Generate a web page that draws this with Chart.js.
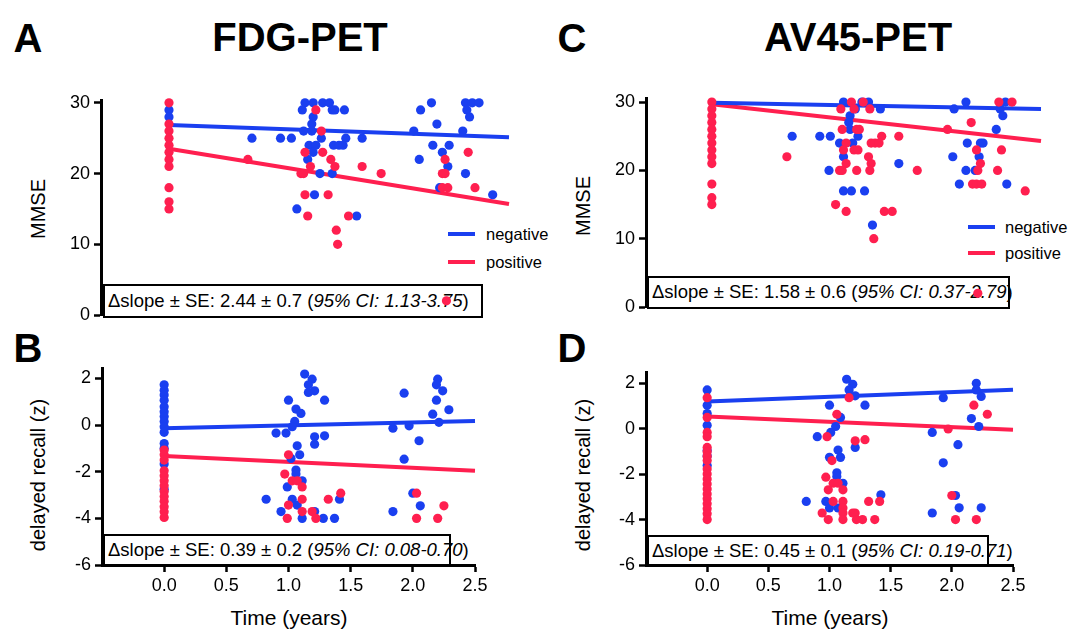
<!DOCTYPE html>
<html>
<head>
<meta charset="utf-8">
<script src="https://cdn.jsdelivr.net/npm/chart.js@4.4.1/dist/chart.umd.min.js"></script>
<style>
  body { margin: 0; width: 1071px; height: 630px; background: #fff; position: relative; overflow: hidden;
         font-family: "Liberation Sans", Arial, sans-serif; color: #000; }
  canvas { position: absolute; left: 0; top: 0; z-index: 2; }
  .t { position: absolute; white-space: nowrap; line-height: 1; transform: translate(-50%, -50%); }
  .big { font-weight: bold; font-size: 40px; }
  .ytitle { font-size: 20px; transform: translate(-50%, -50%) rotate(-90deg); }
  .xtitle { font-size: 21px; }
  .box { position: absolute; z-index: 1; border: 2.5px solid #000; background: #fff; box-sizing: border-box;
         font-size: 18.5px; line-height: 1; padding-left: 3px; display: flex; align-items: center; white-space: nowrap; }
  .leg { position: absolute; height: 4px; width: 27px; }
  .legt { position: absolute; font-size: 16.5px; line-height: 1; transform: translateY(-50%); }
</style>
</head>
<body>
<div class="t big" style="left:28px;top:38px">A</div>
<div class="t big" style="left:300px;top:37px">FDG-PET</div>
<div class="t big" style="left:572px;top:38px">C</div>
<div class="t big" style="left:858px;top:37px">AV45-PET</div>
<div class="t big" style="left:28px;top:348px">B</div>
<div class="t big" style="left:572px;top:348px">D</div>

<div class="t ytitle" style="left:38px;top:209px">MMSE</div>
<div class="t ytitle" style="left:583px;top:206px">MMSE</div>
<div class="t ytitle" style="left:38px;top:475px">delayed recall (z)</div>
<div class="t ytitle" style="left:583px;top:475px">delayed recall (z)</div>
<div class="t xtitle" style="left:289px;top:617px">Time (years)</div>
<div class="t xtitle" style="left:830px;top:617px">Time (years)</div>

<div class="leg" style="left:448px;top:232px;background:#1a3ff0"></div>
<div class="legt" style="left:486px;top:234px">negative</div>
<div class="leg" style="left:448px;top:260px;background:#ff1f4f"></div>
<div class="legt" style="left:486px;top:262px">positive</div>
<div class="leg" style="left:968px;top:225px;background:#1a3ff0"></div>
<div class="legt" style="left:1005px;top:227px">negative</div>
<div class="leg" style="left:968px;top:251px;background:#ff1f4f"></div>
<div class="legt" style="left:1005px;top:253px">positive</div>

<div class="box" style="left:103px;top:284px;width:380px;height:34px">&Delta;slope &plusmn; SE: 2.44 &plusmn; 0.7 (<i>95% CI: 1.13-3.75</i>)</div>
<div class="box" style="left:103px;top:534px;width:348px;height:33px">&Delta;slope &plusmn; SE: 0.39 &plusmn; 0.2 (<i>95% CI: 0.08-0.70</i>)</div>
<div class="box" style="left:647px;top:276px;width:363px;height:33px">&Delta;slope &plusmn; SE: 1.58 &plusmn; 0.6 (<i>95% CI: 0.37-2.79</i>)</div>
<div class="box" style="left:647px;top:535px;width:342px;height:32px">&Delta;slope &plusmn; SE: 0.45 &plusmn; 0.1 (<i>95% CI: 0.19-0.71</i>)</div>

<canvas id="cA" width="1071" height="630"></canvas>
<canvas id="cB" width="1071" height="630"></canvas>
<canvas id="cC" width="1071" height="630"></canvas>
<canvas id="cD" width="1071" height="630"></canvas>

<script>
const BLUE = '#1a3ff0';
const RED = '#ff1f4f';

const xTicks = [0, 0.5, 1, 1.5, 2, 2.5];
const mmseTicks = [0, 10, 20, 30];
const recallTicks = [-6, -4, -2, 0, 2];

// fitted lines: value at time 0 and at time 2.5
const lineEnds = [0, 2.5];
const fdgMmseNegLine = [26.85, 25.15];
const fdgMmsePosLine = [23.5, 15.7];
const fdgRecallNegLine = [-0.13, 0.18];
const fdgRecallPosLine = [-1.32, -1.96];
const avMmseNegLine = [29.9, 29.0];
const avMmsePosLine = [29.7, 24.3];
const avRecallNegLine = [1.2, 1.72];
const avRecallPosLine = [0.54, -0.04];

// A: FDG-PET, MMSE  [time, score]
const fdgMmseNeg = [[0,29],[0,28],
  [1.0,30],[1.06,30],[1.13,30],[1.18,30],[0.98,29],[1.2,29],[1.22,29],[1.29,29],
  [1.06,28],[1.05,27],[0.99,26],[1.05,26],[0.61,25],[0.82,25],[0.9,25],[1.12,25],[1.3,25],[1.42,25],
  [1.03,24],[1.08,24],[1.21,24],[1.25,24],[1.28,24],[1.06,23],[1.02,22],[1.11,20],[1.2,20],
  [1.07,17],[0.94,15],[1.38,14],
  [1.93,30],[1.85,29],[2.18,30],[2.23,30],[2.28,30],[2.19,29],[2.21,28],[1.97,27],[1.8,26],[2.16,26],
  [1.94,24],[2.06,24],[2.01,23],[1.84,22],[2.05,21],[2.18,20],[1.99,18],[2.38,17]];
const fdgMmsePos = [[0,30],[0,27],[0,26],[0,25],[0,24],[0,23],[0,22],[0,21],[0,18],[0,16],[0,15],
  [1.08,29],[1.12,26],[1.0,23],[1.13,23],[0.58,22],[1.19,22],[1.04,21],[1.22,21],[1.42,21],
  [1.56,20],[0.97,20],[0.99,20],[1.0,17],[1.17,17],[1.02,14],[1.32,14],[1.23,12],[1.24,10],
  [2.2,23],[2.03,22],[2.01,20],[2.03,20],[2.01,18],[2.05,18],[2.25,18],[2.04,2]];

// B: FDG-PET, delayed recall
const fdgRecallNeg = [[0,1.73],[0,1.5],[0,1.29],[0,1.07],[0,0.79],[0,0.57],[0,0.37],[0,0.16],[0,-0.07],
  [0,-0.31],[0,-0.79],[0,-0.99],[0,-1.67],[0,-2.75],
  [1.13,2.19],[1.19,1.97],[1.16,1.73],[1.21,1.47],[1.16,1.4],[1.0,1.07],[1.29,1.07],[1.06,0.69],[1.1,0.5],
  [1.05,0.16],[1.03,-0.07],[0.9,-0.34],[0.98,-0.34],[1.21,-0.5],[1.29,-0.46],[1.21,-0.82],[1.07,-0.89],
  [1.09,-1.27],[1.02,-1.43],[1.06,-1.93],[1.06,-2.1],[1.11,-2.39],[0.99,-2.65],[0.82,-3.18],[1.03,-3.18],
  [1.41,-3.18],[1.07,-3.43],[0.94,-3.71],[1.21,-3.71],[1.11,-4],[1.28,-4],[1.37,-4],
  [2.2,1.97],[2.19,1.73],[2.24,1.47],[1.93,1.37],[2.19,1.07],[2.29,0.66],[2.16,0.47],[2.21,0.12],
  [1.84,-0.13],[1.97,-0.03],[2.05,-0.67],[1.93,-1.46],[2.0,-2.92],[2.06,-3.46],[1.84,-3.71]];
const fdgRecallPos = [[0,-1.07],[0,-1.27],[0,-1.5],[0,-1.96],[0,-2.17],[0,-2.39],[0,-2.6],[0,-2.85],
  [0,-3.06],[0,-3.27],[0,-3.5],[0,-3.72],[0,-3.96],
  [1.0,-1.27],[0.97,-2.1],[1.03,-2.39],[1.07,-2.39],[1.11,-2.65],[1.42,-2.92],[1.11,-3.18],[1.32,-3.18],
  [1.0,-3.43],[1.19,-3.71],[1.11,-3.71],[0.99,-4],[1.22,-4],
  [2.03,-2.92],[2.25,-3.46],[2.03,-4],[2.2,-4]];

// C: AV45-PET, MMSE
const avMmseNeg = [[1.0,30],[1.14,30],[1.19,30],[1.09,29],[1.28,29],[1.05,28],[1.04,27],[1.05,26],
  [0.61,25],[0.82,25],[0.9,25],[1.11,25],[0.97,24],[1.07,24],[1.0,22],[1.42,21],[0.89,20],
  [1.0,17],[1.06,17],[1.16,17],[1.22,12],
  [1.93,30],[2.23,30],[1.84,29],[2.19,29],[2.21,28],[2.16,26],[1.94,24],[2.04,24],[2.06,24],
  [1.83,22],[2.03,22],[1.93,20],[2.0,20],[1.88,18],[2.24,18]];
const avMmsePos = [[0,30],[0,29],[0,28],[0,27],[0,26],[0,25],[0,24],[0,23],[0,22],[0,21],[0,18],[0,16],[0,15],
  [1.06,30],[1.15,30],[0.98,29],[1.08,29],[1.2,29],[0.99,26],[1.1,26],[1.12,26],[1.29,25],[1.42,25],
  [1.02,24],[1.21,24],[1.24,24],[1.27,24],[1.0,23],[1.08,23],[1.11,23],[0.57,22],[1.19,22],[1.02,21],
  [1.21,21],[0.97,20],[0.99,20],[1.1,20],[1.2,20],[1.56,20],[0.94,15],[1.02,14],[1.31,14],[1.37,14],[1.23,10],
  [2.18,30],[2.28,30],[1.97,27],[1.79,26],[2.01,23],[2.2,23],[2.04,21],[2.02,20],[2.17,20],
  [1.98,18],[2.01,18],[2.05,18],[2.38,17],[2.02,2]];

// D: AV45-PET, delayed recall
const avRecallNeg = [[0,1.71],[0,1.04],[0,0.67],[0,0.16],[0,-0.96],[0,-1.2],[0,-1.62],
  [1.14,2.18],[1.19,1.96],[1.16,1.71],[1.21,1.45],[1.0,1.04],[1.29,1.04],[1.09,0.5],[1.05,0.1],
  [1.01,-0.16],[0.9,-0.35],[1.21,-0.82],[1.07,-0.94],[1.0,-1.26],[1.09,-1.26],[1.06,-1.94],[1.06,-2.1],
  [1.11,-2.4],[1.42,-2.91],[0.81,-3.2],[0.97,-3.2],[1.0,-3.49],[1.07,-3.49],
  [2.2,2.0],[2.2,1.71],[1.93,1.37],[2.24,1.42],[2.16,0.45],[2.22,0.1],[1.84,-0.16],[2.05,-0.7],
  [1.93,-1.5],[2.03,-2.94],[2.06,-3.48],[2.24,-3.48],[1.84,-3.71]];
const avRecallPos = [[0,1.37],[0,0.5],[0,-0.16],[0,-0.35],[0,-0.82],[0,-1.01],[0,-1.21],[0,-1.4],
  [0,-1.77],[0,-1.99],[0,-2.21],[0,-2.43],[0,-2.65],[0,-2.87],[0,-3.08],[0,-3.3],[0,-3.52],[0,-3.74],[0,-4.0],
  [1.16,1.37],[1.06,0.64],[0.98,-0.35],[1.21,-0.53],[1.29,-0.48],[1.02,-1.4],[0.97,-2.13],[1.03,-2.4],
  [1.07,-2.4],[0.99,-2.69],[1.11,-2.69],[1.03,-3.2],[1.11,-3.2],[1.32,-3.2],[1.41,-3.2],[1.11,-3.49],
  [0.94,-3.71],[1.11,-3.71],[1.19,-3.71],[1.21,-3.71],[0.99,-4],[1.11,-4],[1.22,-4],[1.27,-4],[1.37,-4],
  [2.18,1.04],[2.29,0.64],[1.97,-0.01],[2.0,-2.94],[2.03,-4],[2.2,-4]];

const pts = arr => arr.map(p => ({ x: p[0], y: p[1] }));
const line = vals => lineEnds.map((x, i) => ({ x: x, y: vals[i] }));

function axisStyle(extra) {
  return Object.assign({
    type: 'linear',
    grid: { drawOnChartArea: false, drawTicks: true, tickLength: 7, tickWidth: 2.5, color: '#000' },
    border: { display: true, width: 3, color: '#000' },
  }, extra);
}

function panel(id, p) {
  new Chart(document.getElementById(id), {
    type: 'scatter',
    data: {
      datasets: [
        { data: pts(p.pos), backgroundColor: RED, borderWidth: 0, pointRadius: 4.6, clip: false },
        { data: pts(p.neg), backgroundColor: BLUE, borderWidth: 0, pointRadius: 4.6, clip: false },
        { data: line(p.negLine), showLine: true, borderColor: BLUE, borderWidth: 4, pointRadius: 0, clip: false },
        { data: line(p.posLine), showLine: true, borderColor: RED, borderWidth: 4, pointRadius: 0, clip: false },
      ]
    },
    options: {
      responsive: false,
      animation: false,
      devicePixelRatio: 1,
      layout: { padding: { left: 0, top: p.top, right: 1071 - p.right, bottom: p.bottomPad } },
      plugins: { legend: { display: false }, tooltip: { enabled: false } },
      scales: {
        x: axisStyle({
          min: -0.5, max: 2.5, display: p.showX,
          afterBuildTicks: s => { s.ticks = xTicks.map(v => ({ value: v })); },
          afterFit: s => { s.height = p.showX ? 40 : 0; },
          ticks: { callback: v => v.toFixed(1), color: '#000', padding: 3,
                   font: { family: '"Liberation Sans", Arial', size: 18 } },
        }),
        y: axisStyle({
          min: p.ymin, max: p.ymax,
          afterBuildTicks: s => { s.ticks = p.yTicks.map(v => ({ value: v })); },
          afterFit: s => { s.width = p.left; },
          ticks: { callback: v => String(v), color: '#000', padding: 4,
                   font: { family: '"Liberation Sans", Arial', size: 18 } },
        }),
      }
    }
  });
}

panel('cA', { pos: fdgMmsePos, neg: fdgMmseNeg, negLine: fdgMmseNegLine, posLine: fdgMmsePosLine,
  left: 101, right: 509, top: 100, bottomPad: 630 - 315, showX: false,
  ymin: 0, ymax: 30.4, yTicks: mmseTicks });
panel('cB', { pos: fdgRecallPos, neg: fdgRecallNeg, negLine: fdgRecallNegLine, posLine: fdgRecallPosLine,
  left: 102, right: 475, top: 368, bottomPad: 630 - 565 - 40, showX: true,
  ymin: -6, ymax: 2.45, yTicks: recallTicks });
panel('cC', { pos: avMmsePos, neg: avMmseNeg, negLine: avMmseNegLine, posLine: avMmsePosLine,
  left: 646, right: 1041, top: 98, bottomPad: 630 - 307, showX: false,
  ymin: 0, ymax: 30.6, yTicks: mmseTicks });
panel('cD', { pos: avRecallPos, neg: avRecallNeg, negLine: avRecallNegLine, posLine: avRecallPosLine,
  left: 646, right: 1013, top: 372, bottomPad: 630 - 565 - 40, showX: true,
  ymin: -6, ymax: 2.5, yTicks: recallTicks });
</script>
</body>
</html>
